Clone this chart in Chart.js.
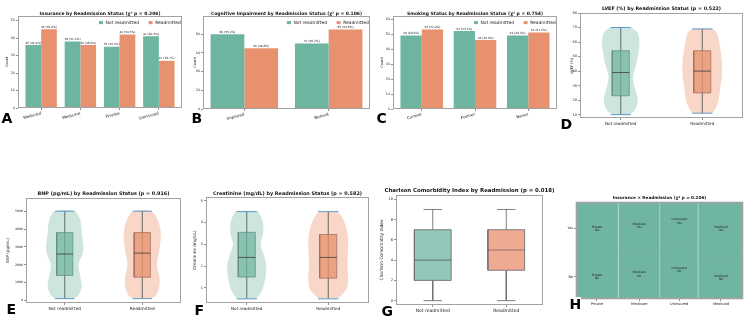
<!DOCTYPE html>
<html>
<head>
<meta charset="utf-8">
<title>Readmission figure</title>
<script src="https://cdn.jsdelivr.net/npm/chart.js@4.4.1/dist/chart.umd.min.js"></script>
<style>
    body { margin: 0; background: #ffffff; }
    #figure { position: relative; width: 750px; height: 321px; overflow: hidden; background: #ffffff; }
    .panel-letter { position: absolute; z-index: 5; font: bold 14px "DejaVu Sans", sans-serif; line-height: 1; color: #000000; background: #ffffff; }
</style>
</head>
<body>
<div id="figure">
    <div class="panel-letter" style="left:1.5px;top:110.5px">A</div>
    <div class="panel-letter" style="left:191.5px;top:110.5px">B</div>
    <div class="panel-letter" style="left:376.5px;top:110.5px">C</div>
    <div class="panel-letter" style="left:560.5px;top:116.5px">D</div>
    <div class="panel-letter" style="left:6.5px;top:301.5px">E</div>
    <div class="panel-letter" style="left:194.5px;top:302.5px">F</div>
    <div class="panel-letter" style="left:381.5px;top:303.5px">G</div>
    <div class="panel-letter" style="left:569.5px;top:296.5px">H</div>
</div>
<script>
// ---- values -------------------------------------------------------------------------
const readmissionGroups = ['Not readmitted', 'Readmitted'];

const insuranceCategories    = ['Medicaid', 'Medicare', 'Private', 'Uninsured'];
const insuranceNotReadmitted = [36, 38, 35, 41];
const insuranceReadmitted    = [45, 36, 42, 27];

const cognitiveCategories    = ['Impaired', 'Normal'];
const cognitiveNotReadmitted = [80, 70];
const cognitiveReadmitted    = [65, 85];

const smokingCategories    = ['Current', 'Former', 'Never'];
const smokingNotReadmitted = [49, 52, 49];
const smokingReadmitted    = [53, 46, 51];

// violin outlines: value levels and half widths (category units), box = [min, q1, median, q3, max]
const lvefLevelsNot   = [10, 13, 20, 29, 36, 47, 59, 66, 70];
const lvefWidthNot    = [0.11, 0.17, 0.21, 0.17, 0.15, 0.20, 0.23, 0.21, 0.12];
const lvefLevelsReadm = [11, 13, 20, 29, 36, 47, 59, 66, 69];
const lvefWidthReadm  = [0.12, 0.15, 0.20, 0.22, 0.24, 0.24, 0.21, 0.18, 0.12];
const lvefBoxNot      = [10, 23, 39, 54, 70];
const lvefBoxReadm    = [11, 25, 40, 54, 69];

const bnpLevels     = [100, 300, 800, 1350, 2000, 2800, 3750, 4500, 5000];
const bnpWidthNot   = [0.12, 0.18, 0.22, 0.20, 0.18, 0.24, 0.22, 0.20, 0.13];
const bnpWidthReadm = [0.12, 0.18, 0.22, 0.22, 0.19, 0.22, 0.24, 0.20, 0.12];
const bnpBoxNot     = [100, 1400, 2600, 3800, 5000];
const bnpBoxReadm   = [100, 1300, 2650, 3800, 5000];

const creatinineLevels     = [0.5, 0.65, 1.0, 1.5, 2.0, 2.5, 3.0, 3.5, 4.0, 4.3, 4.5];
const creatinineWidthNot   = [0.11, 0.15, 0.20, 0.23, 0.24, 0.21, 0.17, 0.20, 0.20, 0.17, 0.13];
const creatinineWidthReadm = [0.11, 0.16, 0.23, 0.245, 0.235, 0.24, 0.245, 0.235, 0.20, 0.16, 0.10];
const creatinineBoxNot     = [0.5, 1.5, 2.4, 3.55, 4.5];
const creatinineBoxReadm   = [0.5, 1.45, 2.4, 3.45, 4.5];

const charlsonBoxNot   = [0, 2, 4, 7, 9];
const charlsonBoxReadm = [0, 3, 5, 7, 9];

const mosaicOrder     = ['Private', 'Medicare', 'Uninsured', 'Medicaid'];
const mosaicRowLabels = ['No', 'Yes'];

// ---- layout and style ----------------------------------------------------------------
const FONT_FAMILY = '"DejaVu Sans", sans-serif';
const groupColors  = ['#6db4a1', '#e8916f'];
const violinFills  = ['#cde5dd', '#f8d7c8'];
const innerBoxFill = ['rgba(110,180,160,0.7)', 'rgba(232,145,110,0.75)'];
const innerBoxEdge = ['#5f8a7e', '#9a6b58'];
const plainBoxFill = ['#92c7b9', '#f0aa91'];
const mosaicFill   = '#70b4a2';

// canvas: [left, top, width, height], axes: [left, top, right, bottom]
const panelLayout = {
    insurance:  { canvas: [0, 0, 190, 135],     axes: [18, 16, 182, 108],  titleY: 14,    yTitleX: 7 },
    cognitive:  { canvas: [190, 0, 185, 135],   axes: [203, 16, 370, 109], titleY: 14,    yTitleX: 195 },
    smoking:    { canvas: [375, 0, 185, 135],   axes: [393, 16, 557, 109], titleY: 14,    yTitleX: 382 },
    lvef:       { canvas: [560, 0, 190, 135],   axes: [580, 13, 743, 118], titleY: 8.3,   yTitleX: 572 },
    bnp:        { canvas: [0, 150, 190, 171],   axes: [26, 198, 181, 303], titleY: 193.3, yTitleX: 8 },
    creatinine: { canvas: [190, 150, 185, 171], axes: [206, 197, 369, 303], titleY: 193.3, yTitleX: 195 },
    charlson:   { canvas: [375, 150, 185, 171], axes: [396, 195, 543, 305], titleY: 190.7, yTitleX: 382 },
    mosaic:     { canvas: [560, 150, 190, 171], axes: [576, 202, 743, 299], titleY: 198.3, yTitleX: null }
};

const panelFonts = {
    insurance:  { title: 4.5, xTick: 4.1, yTick: 3.3, yTitle: 3.6, legend: 4.4, value: 2.9 },
    cognitive:  { title: 4.5, xTick: 4.1, yTick: 3.3, yTitle: 3.6, legend: 4.4, value: 2.9 },
    smoking:    { title: 4.5, xTick: 4.1, yTick: 3.3, yTitle: 3.6, legend: 4.4, value: 2.9 },
    lvef:       { title: 4.8, xTick: 4.15, yTick: 3.5, yTitle: 3.6 },
    bnp:        { title: 4.9, xTick: 4.3, yTick: 3.2, yTitle: 4.0 },
    creatinine: { title: 4.9, xTick: 4.15, yTick: 3.4, yTitle: 4.2 },
    charlson:   { title: 5.4, xTick: 4.5, yTick: 3.6, yTitle: 4.4 },
    mosaic:     { title: 4.2, xTick: 3.6, yTick: 3.4, tile: 3.0 }
};

// -------------------------------------------------------------------------------------------
const panelFrame = {
    id: 'panelFrame',
    afterDraw(chart, args, opts) {
        const {ctx, chartArea: a} = chart;
        const top = chart.canvas.offsetTop;
        ctx.save();
        ctx.strokeStyle = opts.color;
        ctx.lineWidth = opts.width;
        ctx.strokeRect(a.left + 0.5, a.top + 0.5, a.right - a.left - 1, a.bottom - a.top - 1);
        ctx.fillStyle = '#111111';
        ctx.font = 'bold ' + opts.titleSize + 'px ' + FONT_FAMILY;
        ctx.textAlign = 'center';
        ctx.textBaseline = 'middle';
        ctx.fillText(opts.title, (a.left + a.right) / 2, opts.titleY - top);
        ctx.restore();
    }
};

const insideLegend = {
    id: 'insideLegend',
    afterDraw(chart, args, opts) {
        if (!opts.display) {
            return;
        }
        const {ctx, chartArea: a} = chart;
        const s = opts.size;
        ctx.save();
        ctx.font = s + 'px ' + FONT_FAMILY;
        ctx.textBaseline = 'middle';
        const items = chart.data.datasets.map((ds) => ({ label: ds.label, color: ds.backgroundColor, width: ctx.measureText(ds.label).width }));
        const patchW = s * 0.9, patchH = s * 0.7, gap = s * 0.6, spacing = s * 2.2;
        const total = items.reduce((sum, it) => sum + patchW + gap + it.width, 0) + spacing * (items.length - 1);
        let x = a.right - s * 0.3 - total;
        const y = a.top + s * 1.5;
        items.forEach((it) => {
            ctx.fillStyle = it.color;
            ctx.fillRect(x, y - patchH / 2, patchW, patchH);
            x += patchW + gap;
            ctx.fillStyle = '#222222';
            ctx.fillText(it.label, x, y);
            x += it.width + spacing;
        });
        ctx.restore();
    }
};

const barValueLabels = {
    id: 'barValueLabels',
    afterDatasetsDraw(chart, args, opts) {
        const {ctx} = chart;
        const datasets = chart.data.datasets;
        ctx.save();
        ctx.font = opts.size + 'px ' + FONT_FAMILY;
        ctx.fillStyle = '#222222';
        ctx.textAlign = 'center';
        ctx.textBaseline = 'bottom';
        datasets.forEach((ds, di) => {
            chart.getDatasetMeta(di).data.forEach((bar, i) => {
                const value = ds.data[i].y;
                const total = datasets.reduce((sum, d) => sum + d.data[i].y, 0);
                ctx.fillText(value + ' (' + (value / total * 100).toFixed(1) + '%)', bar.x, bar.y - 0.8);
            });
        });
        ctx.restore();
    }
};

const mosaicLabels = {
    id: 'mosaicLabels',
    afterDatasetsDraw(chart, args, opts) {
        const {ctx, scales} = chart;
        ctx.save();
        ctx.font = opts.size + 'px ' + FONT_FAMILY;
        ctx.fillStyle = '#222222';
        ctx.textAlign = 'center';
        ctx.textBaseline = 'middle';
        chart.data.datasets.forEach((ds) => {
            const cx = scales.x.getPixelForValue((ds.data[0].x + ds.data[1].x) / 2);
            const cy = scales.y.getPixelForValue((ds.data[0].y + ds.data[2].y) / 2);
            const lines = ds.label.split('\n');
            ctx.fillText(lines[0], cx, cy - opts.size * 0.55);
            ctx.fillText(lines[1], cx, cy + opts.size * 0.55);
        });
        ctx.restore();
    }
};

// -------------------------------------------------------------------------------------------
function createCanvas(key)
{
    const [x, y, w, h] = panelLayout[key].canvas;
    const canvas = document.createElement('canvas');
    canvas.id = 'chart-' + key;
    canvas.width = w;
    canvas.height = h;
    canvas.style.cssText = 'position:absolute;left:' + x + 'px;top:' + y + 'px;width:' + w + 'px;height:' + h + 'px';
    document.getElementById('figure').appendChild(canvas);
    return canvas;
}

function tickMarks()
{
    return { display: true, drawOnChartArea: false, drawTicks: true, tickLength: 2, color: '#444444', lineWidth: 0.6, offset: false };
}

function stepTicks(min, max, step)
{
    const values = [];
    for (let v = Math.ceil(min / step) * step; v <= max + 1e-9; v += step) {
        values.push(Math.round(v * 1000) / 1000);
    }
    return values;
}

function categoryAxis(key, min, max, values, labels, rotation)
{
    const [cx, cy, cw, ch] = panelLayout[key].canvas;
    const bottom = panelLayout[key].axes[3];
    return {
        type: 'linear', min: min, max: max, bounds: 'data', offset: false,
        grid: tickMarks(),
        border: { display: false },
        afterBuildTicks: (scale) => { scale.ticks = values.map((v) => ({ value: v })); },
        afterFit: (scale) => { scale.height = cy + ch - bottom; scale.paddingLeft = 0; scale.paddingRight = 0; },
        ticks: {
            autoSkip: false, minRotation: rotation, maxRotation: rotation, padding: 1,
            color: '#222222', font: { family: FONT_FAMILY, size: panelFonts[key].xTick },
            callback: (value, index) => labels[index]
        }
    };
}

function valueAxis(key, min, max, step, title, tickValues, tickLabels)
{
    const L = panelLayout[key];
    const fonts = panelFonts[key];
    const values = tickValues || stepTicks(min, max, step);
    return {
        type: 'linear', min: min, max: max, bounds: 'data',
        grid: tickMarks(),
        border: { display: false },
        afterBuildTicks: (scale) => { scale.ticks = values.map((v) => ({ value: v })); },
        afterFit: (scale) => { scale.width = L.axes[0] - L.canvas[0]; scale.paddingTop = 0; scale.paddingBottom = 0; },
        ticks: {
            autoSkip: false, padding: 1, color: '#222222', font: { family: FONT_FAMILY, size: fonts.yTick },
            callback: (value, index) => tickLabels ? tickLabels[index] : String(value)
        },
        title: {
            display: !!title, text: title, color: '#222222',
            font: { family: FONT_FAMILY, size: fonts.yTitle || 4 },
            padding: { top: L.yTitleX === null ? 0 : L.yTitleX - L.canvas[0] - (fonts.yTitle || 4) * 0.6, bottom: 0 }
        }
    };
}

function baseOptions(key, title, xAxis, yAxis, frameWidth)
{
    const L = panelLayout[key];
    const [cx, cy, cw, ch] = L.canvas;
    return {
        responsive: false,
        animation: false,
        events: [],
        layout: { padding: { left: 0, top: L.axes[1] - cy, right: cx + cw - L.axes[2], bottom: 0 } },
        scales: { x: xAxis, y: yAxis },
        plugins: {
            legend: { display: false },
            tooltip: { enabled: false },
            title: { display: false },
            panelFrame: { title: title, titleY: L.titleY, titleSize: panelFonts[key].title, color: '#a3a3a3', width: frameWidth || 1 }
        }
    };
}

function lineDataset(points, color, width, order)
{
    return { data: points, showLine: true, fill: false, borderColor: color, borderWidth: width, pointRadius: 0, tension: 0, order: order };
}

function shapeDataset(points, fillColor, edgeColor, edgeWidth, order, tension)
{
    return {
        data: points, showLine: true, fill: 'shape', backgroundColor: fillColor,
        borderColor: edgeColor || 'rgba(0,0,0,0)', borderWidth: edgeWidth || 0.01,
        pointRadius: 0, tension: tension || 0, order: order
    };
}

function violinOutline(center, levels, widths)
{
    const left = levels.map((y, i) => ({ x: center - widths[i], y: y }));
    const right = levels.map((y, i) => ({ x: center + widths[i], y: y })).reverse();
    return left.concat(right);
}

function boxOutline(center, half, q1, q3)
{
    return [
        { x: center - half, y: q1 }, { x: center + half, y: q1 },
        { x: center + half, y: q3 }, { x: center - half, y: q3 },
        { x: center - half, y: q1 }
    ];
}

function segment(x0, y0, x1, y1)
{
    return [{ x: x0, y: y0 }, { x: x1, y: y1 }];
}

// -------------------------------------------------------------------------------------------
function drawBarChart(type)
{
    let categories = [], notData = [], readmData = [];
    let title = '';

    switch (type) {
        case 'insurance':
            title      = 'Insurance by Readmission Status (χ² p = 0.206)';
            categories = insuranceCategories;
            notData    = insuranceNotReadmitted;
            readmData  = insuranceReadmitted;
            break;
        case 'cognitive':
            title      = 'Cognitive Impairment by Readmission Status (χ² p = 0.106)';
            categories = cognitiveCategories;
            notData    = cognitiveNotReadmitted;
            readmData  = cognitiveReadmitted;
            break;
        case 'smoking':
            title      = 'Smoking Status by Readmission Status (χ² p = 0.754)';
            categories = smokingCategories;
            notData    = smokingNotReadmitted;
            readmData  = smokingReadmitted;
            break;
    }

    const positions = categories.map((c, i) => i);
    const margin = 0.05 * (categories.length - 0.2);
    const yMax = Math.max(...notData, ...readmData) * 1.17;
    const yStep = yMax > 80 ? 20 : 10;

    const data = {
        datasets: [notData, readmData].map((values, g) => ({
            label: readmissionGroups[g],
            data: values.map((v, i) => ({ x: i, y: v })),
            backgroundColor: groupColors[g],
            borderWidth: 0,
            categoryPercentage: 0.8,
            barPercentage: 1.0
        }))
    };

    const options = baseOptions(type, title,
        categoryAxis(type, -0.4 - margin, categories.length - 0.6 + margin, positions, categories, 15),
        valueAxis(type, 0, yMax, yStep, 'Count'));
    options.plugins.insideLegend = { display: true, size: panelFonts[type].legend };
    options.plugins.barValueLabels = { size: panelFonts[type].value };

    new Chart(createCanvas(type), {
        type: 'bar',
        data: data,
        options: options,
        plugins: [panelFrame, insideLegend, barValueLabels]
    });
}
// -------------------------------------------------------------------------------------------
function drawViolinChart(type)
{
    let levels = [], widths = [], boxes = [];
    let title = '', yTitle = '', yMin = 0, yMax = 1, yStep = 1;

    switch (type) {
        case 'lvef':
            title  = 'LVEF (%) by Readmission Status (p = 0.522)';
            yTitle = 'LVEF (%)';
            levels = [lvefLevelsNot, lvefLevelsReadm];
            widths = [lvefWidthNot, lvefWidthReadm];
            boxes  = [lvefBoxNot, lvefBoxReadm];
            yMin = 7.7; yMax = 80; yStep = 10;
            break;
        case 'bnp':
            title  = 'BNP (pg/mL) by Readmission Status (p = 0.916)';
            yTitle = 'BNP (pg/mL)';
            levels = [bnpLevels, bnpLevels];
            widths = [bnpWidthNot, bnpWidthReadm];
            boxes  = [bnpBoxNot, bnpBoxReadm];
            yMin = -145; yMax = 5740; yStep = 1000;
            break;
        case 'creatinine':
            title  = 'Creatinine (mg/dL) by Readmission Status (p = 0.582)';
            yTitle = 'Creatinine (mg/dL)';
            levels = [creatinineLevels, creatinineLevels];
            widths = [creatinineWidthNot, creatinineWidthReadm];
            boxes  = [creatinineBoxNot, creatinineBoxReadm];
            yMin = 0.31; yMax = 5.17; yStep = 1;
            break;
    }

    const datasets = [];
    readmissionGroups.forEach((group, g) => {
        const [lo, q1, med, q3, hi] = boxes[g];
        datasets.push(shapeDataset(violinOutline(g, levels[g], widths[g]), violinFills[g], null, 0, 10, 0.3));
        datasets.push(lineDataset(segment(g, lo, g, hi), '#4a4a4a', 0.8, 8));
        datasets.push(shapeDataset(boxOutline(g, 0.105, q1, q3), innerBoxFill[g], innerBoxEdge[g], 0.7, 6));
        datasets.push(lineDataset(segment(g - 0.105, med, g + 0.105, med), '#3d3d3d', 0.8, 4));
        datasets.push(lineDataset(segment(g - 0.125, lo, g + 0.125, lo), '#4f93c9', 0.9, 2));
        datasets.push(lineDataset(segment(g - 0.125, hi, g + 0.125, hi), '#4f93c9', 0.9, 2));
    });

    new Chart(createCanvas(type), {
        type: 'scatter',
        data: { datasets: datasets },
        options: baseOptions(type, title,
            categoryAxis(type, -0.5, 1.5, [0, 1], readmissionGroups, 0),
            valueAxis(type, yMin, yMax, yStep, yTitle)),
        plugins: [panelFrame]
    });
}
// -------------------------------------------------------------------------------------------
function drawBoxChart()
{
    const boxes = [charlsonBoxNot, charlsonBoxReadm];
    const datasets = [];

    readmissionGroups.forEach((group, g) => {
        const [lo, q1, med, q3, hi] = boxes[g];
        datasets.push(lineDataset(segment(g, q1, g, lo), '#707070', 0.9, 8));
        datasets.push(lineDataset(segment(g, q3, g, hi), '#707070', 0.9, 8));
        datasets.push(shapeDataset(boxOutline(g, 0.25, q1, q3), plainBoxFill[g], '#707070', 0.9, 6));
        datasets.push(lineDataset(segment(g - 0.125, lo, g + 0.125, lo), '#707070', 0.9, 4));
        datasets.push(lineDataset(segment(g - 0.125, hi, g + 0.125, hi), '#707070', 0.9, 4));
        datasets.push(lineDataset(segment(g - 0.25, med, g + 0.25, med), 'rgba(80,80,80,0.6)', 1.2, 2));
    });

    new Chart(createCanvas('charlson'), {
        type: 'scatter',
        data: { datasets: datasets },
        options: baseOptions('charlson', 'Charlson Comorbidity Index by Readmission (p = 0.018)',
            categoryAxis('charlson', -0.5, 1.5, [0, 1], readmissionGroups, 0),
            valueAxis('charlson', -0.43, 10.43, 2, 'Charlson Comorbidity Index')),
        plugins: [panelFrame]
    });
}
// -------------------------------------------------------------------------------------------
function drawMosaicChart()
{
    const gap = 0.008;
    const counts = mosaicOrder.map((name) => {
        const i = insuranceCategories.indexOf(name);
        return [insuranceNotReadmitted[i], insuranceReadmitted[i]];
    });
    const total = counts.reduce((sum, c) => sum + c[0] + c[1], 0);
    const usable = 1 - gap * (mosaicOrder.length - 1);

    const datasets = [];
    const columnCenters = [];
    const rowCenters = [];
    let x = 0;

    counts.forEach((c, col) => {
        const w = (c[0] + c[1]) / total * usable;
        const split = c[0] / (c[0] + c[1]);
        [[0, split], [split, 1]].forEach(([y0, y1], row) => {
            const tile = shapeDataset([
                { x: x, y: y0 }, { x: x + w, y: y0 }, { x: x + w, y: y1 }, { x: x, y: y1 }, { x: x, y: y0 }
            ], mosaicFill, mosaicFill, 0.6, 5);
            tile.label = mosaicOrder[col] + '\n' + mosaicRowLabels[row];
            datasets.push(tile);
            if (col === 0) {
                rowCenters.push((y0 + y1) / 2);
            }
        });
        columnCenters.push(x + w / 2);
        x += w + gap;
    });

    const options = baseOptions('mosaic', 'Insurance × Readmission (χ² p = 0.206)',
        categoryAxis('mosaic', 0, 1, columnCenters, mosaicOrder, 0),
        valueAxis('mosaic', 0, 1, 1, '', rowCenters, mosaicRowLabels), 1.6);
    options.plugins.mosaicLabels = { size: panelFonts.mosaic.tile };

    new Chart(createCanvas('mosaic'), {
        type: 'scatter',
        data: { datasets: datasets },
        options: options,
        plugins: [panelFrame, mosaicLabels]
    });
}
// -------------------------------------------------------------------------------------------
drawBarChart('insurance');
drawBarChart('cognitive');
drawBarChart('smoking');
drawViolinChart('lvef');
drawViolinChart('bnp');
drawViolinChart('creatinine');
drawBoxChart();
drawMosaicChart();
</script>
</body>
</html>
